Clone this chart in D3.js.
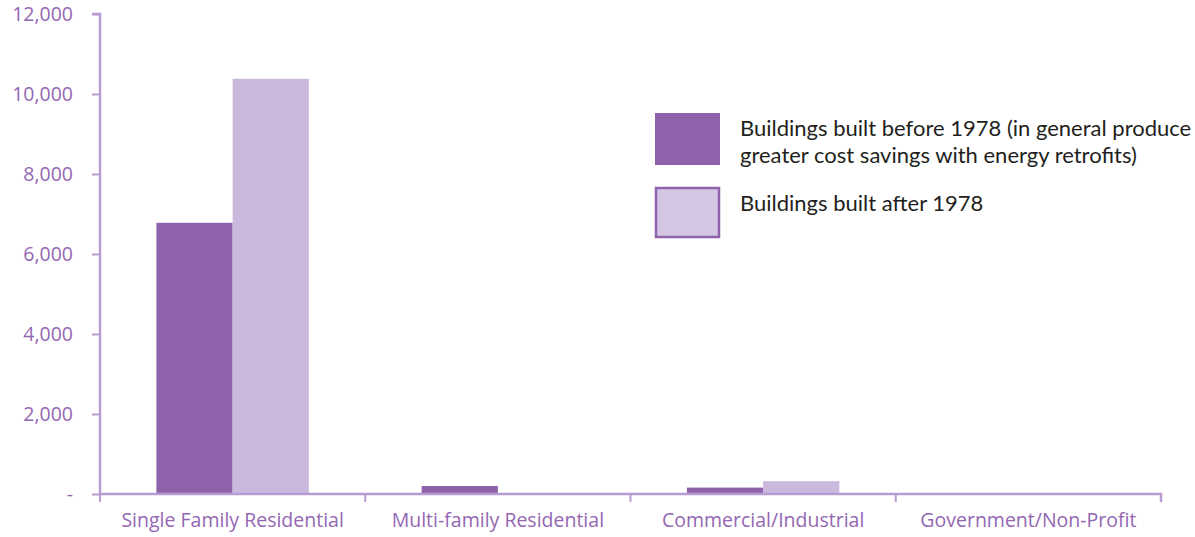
<!DOCTYPE html>
<html><head><meta charset="utf-8">
<script src="https://cdn.jsdelivr.net/npm/d3@7"></script>
<style>body{margin:0;background:#fff}svg{display:block}</style>
</head><body>
<svg id="c" width="1195" height="537"></svg>
<script>
const categories = ["Single Family Residential","Multi-family Residential","Commercial/Industrial","Government/Non-Profit"];
const seriesNames = ["Buildings built before 1978 (in general produce|greater cost savings with energy retrofits)","Buildings built after 1978"];
const before1978 = [6780, 200, 160, 0];
const after1978 = [10380, 0, 320, 0];
const yTicks = [0, 2000, 4000, 6000, 8000, 10000, 12000];
const colors = ["#8F63AB", "#CAB9DD"];

(function(){
const svg = d3.select("#c");
const mL = 100, mR = 1161, mT = 14, mB = 494;
const axisColor = "#B89BD2", labelColor = "#9467B3";
const x = d3.scaleBand().domain(categories).range([mL, mR]).paddingInner(0).paddingOuter(0);
const y = d3.scaleLinear().domain([0, 12000]).range([mB, mT]);
const xs = d3.scaleBand().domain([0,1]).range([0, x.bandwidth()]).paddingOuter(0.74).paddingInner(0);

const series = [before1978, after1978];
series.forEach((vals, si) => {
  svg.append("g").selectAll("rect").data(vals).join("rect")
    .attr("x", (d,i) => x(categories[i]) + xs(si))
    .attr("width", xs.bandwidth())
    .attr("y", d => y(d))
    .attr("height", d => mB - y(d))
    .attr("fill", colors[si]);
});

// Y axis
const ya = svg.append("g").attr("transform", `translate(${mL},0)`)
  .call(d3.axisLeft(y).tickValues(yTicks).tickSize(8).tickPadding(19)
    .tickFormat(d => d === 0 ? "-" : d3.format(",")(d)));
ya.select(".domain").attr("stroke", axisColor).attr("stroke-width", 2.5).attr("d", `M-8,${mT}H0V${mB}`);
ya.selectAll(".tick line").attr("stroke", axisColor).attr("stroke-width", 2);
ya.selectAll(".tick text").attr("fill", labelColor).style("font-family", "'Open Sans', 'Noto Sans', sans-serif").style("font-size", "19.5px");

// X axis
const xa = svg.append("g").attr("transform", `translate(0,${mB})`)
  .call(d3.axisBottom(x).tickSize(0).tickPadding(19));
xa.select(".domain").attr("stroke", axisColor).attr("stroke-width", 2.5).attr("d", `M${mL},0H${mR}V8`);
xa.selectAll(".tick text").attr("fill", labelColor).style("font-family", "'Open Sans', 'Noto Sans', sans-serif").style("font-size", "19.5px");
svg.append("g").selectAll("line").data(categories).join("line")
  .attr("x1", d => x(d)).attr("x2", d => x(d))
  .attr("y1", mB).attr("y2", mB + 8)
  .attr("stroke", axisColor).attr("stroke-width", 2);

// Legend
const lg = svg.append("g").style("font-family", "Lato, 'Liberation Sans', sans-serif").style("font-size", "22px").attr("fill", "#231F20");
lg.append("rect").attr("x", 655).attr("y", 113).attr("width", 65).attr("height", 52).attr("fill", colors[0]);
lg.append("rect").attr("x", 656).attr("y", 188).attr("width", 63).attr("height", 49).attr("fill", "#D5C7E4").attr("stroke", colors[0]).attr("stroke-width", 2.5);
const l1 = seriesNames[0].split("|");
lg.append("text").attr("x", 740).attr("y", 136).text(l1[0]);
lg.append("text").attr("x", 740).attr("y", 163).text(l1[1]);
lg.append("text").attr("x", 740).attr("y", 211).text(seriesNames[1]);
})();
</script>
</body></html>
